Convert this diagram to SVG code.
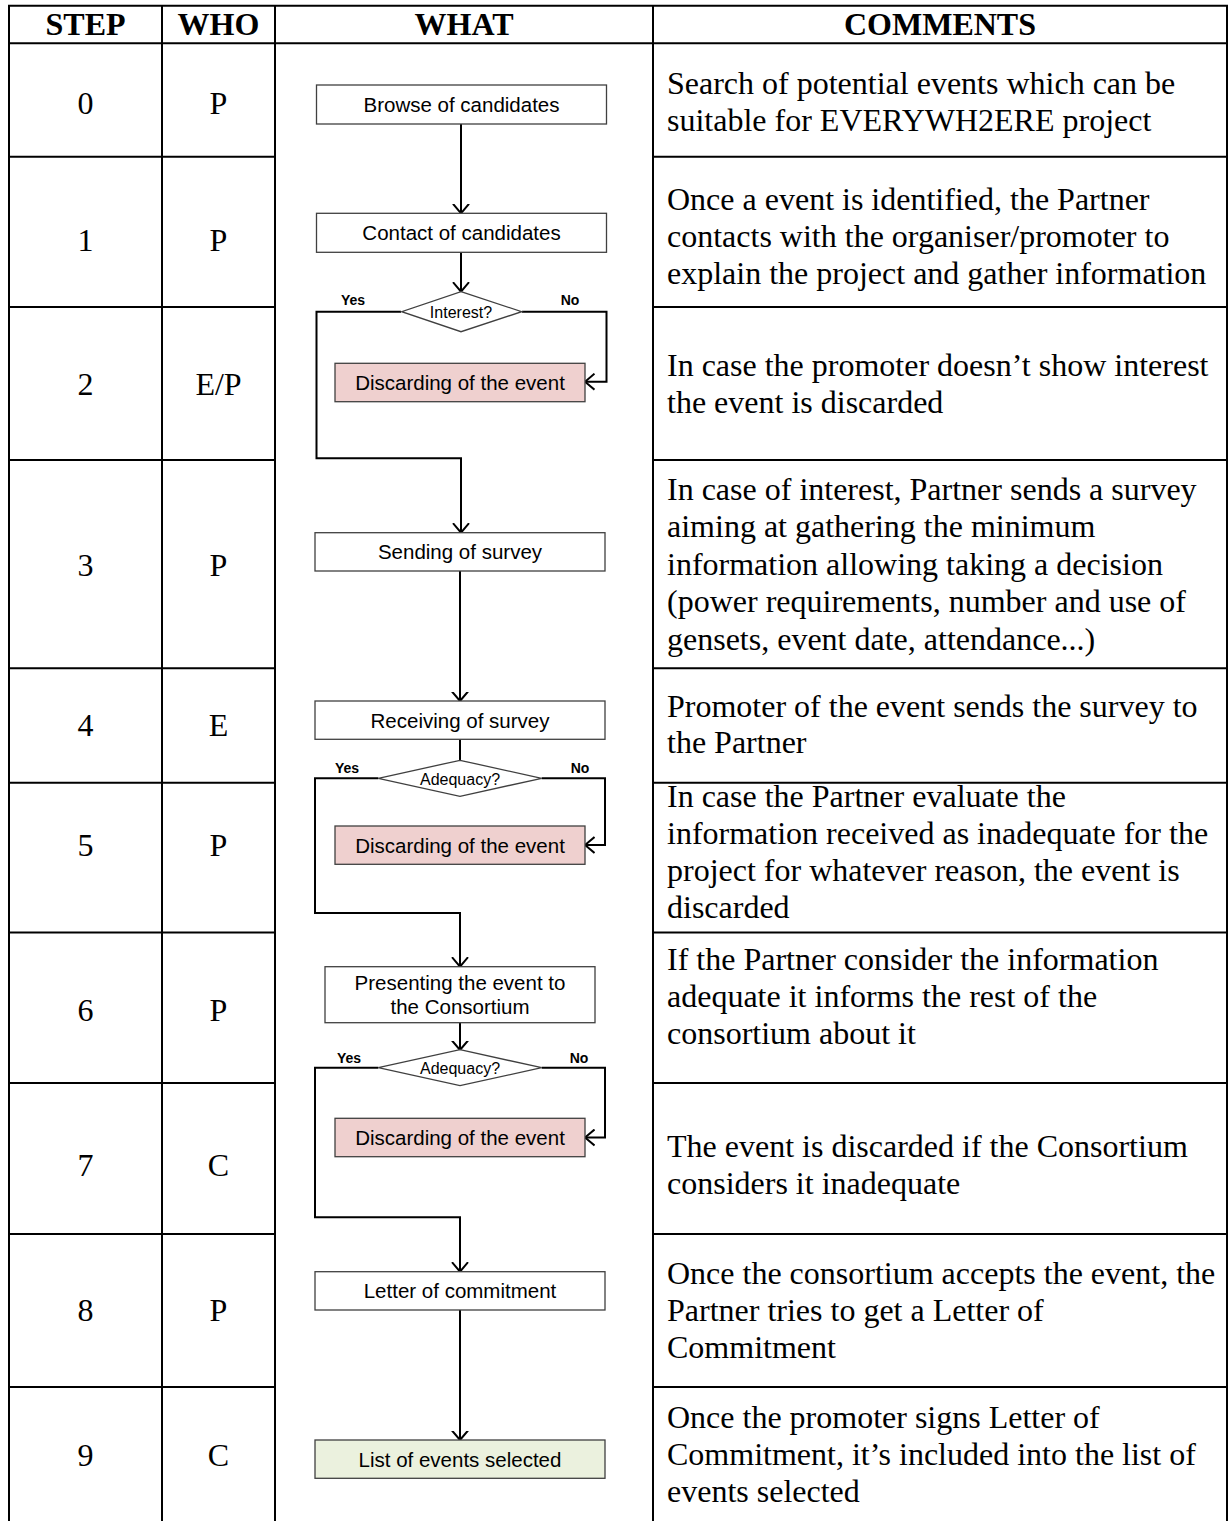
<svg xmlns="http://www.w3.org/2000/svg" width="1229" height="1521" viewBox="0 0 1229 1521">
<style>
.tl{stroke:#000;stroke-width:2;fill:none}
.hd{font-family:"Liberation Serif","Times New Roman",serif;font-weight:bold;font-size:32px;text-anchor:middle;fill:#000}
.cell{font-family:"Liberation Serif","Times New Roman",serif;font-size:32px;text-anchor:middle;fill:#000}
.cm{font-family:"Liberation Serif","Times New Roman",serif;font-size:32px;fill:#000}
.box{fill:#fff;stroke:#404040;stroke-width:1.3}
.disc{fill:#EFD0CF;stroke:#404040;stroke-width:1.3}
.fin{fill:#EBF1DE;stroke:#404040;stroke-width:1.3}
.bt{font-family:"Liberation Sans",Arial,sans-serif;font-size:20.5px;text-anchor:middle;fill:#000}
.dt{font-family:"Liberation Sans",Arial,sans-serif;font-size:16px;text-anchor:middle;fill:#000}
.yn{font-family:"Liberation Sans",Arial,sans-serif;font-size:14px;font-weight:bold;text-anchor:middle;fill:#000}
.cn{stroke:#000;stroke-width:2;fill:none}
</style>
<defs>
<marker id="arr" markerUnits="userSpaceOnUse" viewBox="0 0 10 18" refX="9.5" refY="9" markerWidth="10" markerHeight="18" orient="auto">
<path d="M0,1 L9.5,9 L0,17" fill="none" stroke="#000" stroke-width="2"/>
</marker>
</defs>
<rect width="1229" height="1521" fill="#fff"/>
<g id="table">
<line class="tl" x1="8" y1="5.7" x2="1228" y2="5.7"/>
<line class="tl" x1="8" y1="43.3" x2="1228" y2="43.3"/>
<line class="tl" x1="9" y1="5" x2="9" y2="1525"/>
<line class="tl" x1="162" y1="5" x2="162" y2="1525"/>
<line class="tl" x1="275" y1="5" x2="275" y2="1525"/>
<line class="tl" x1="653" y1="5" x2="653" y2="1525"/>
<line class="tl" x1="1227" y1="5" x2="1227" y2="1525"/>
<path class="tl" d="M8,156.7H275M653,156.7H1228M8,307H275M653,307H1228M8,460H275M653,460H1228M8,668.3H275M653,668.3H1228M8,782.7H275M653,782.7H1228M8,932.5H275M653,932.5H1228M8,1083H275M653,1083H1228M8,1234H275M653,1234H1228M8,1387H275M653,1387H1228"/>
<text class="hd" x="85.5" y="35">STEP</text>
<text class="hd" x="218.5" y="35">WHO</text>
<text class="hd" x="464" y="35">WHAT</text>
<text class="hd" x="940" y="35">COMMENTS</text>
</g>
<g id="steps">
<text class="cell" x="85.5" y="114">0</text><text class="cell" x="218.5" y="114">P</text>
<text class="cell" x="85.5" y="251">1</text><text class="cell" x="218.5" y="251">P</text>
<text class="cell" x="85.5" y="395">2</text><text class="cell" x="218.5" y="395">E/P</text>
<text class="cell" x="85.5" y="576">3</text><text class="cell" x="218.5" y="576">P</text>
<text class="cell" x="85.5" y="736">4</text><text class="cell" x="218.5" y="736">E</text>
<text class="cell" x="85.5" y="856">5</text><text class="cell" x="218.5" y="856">P</text>
<text class="cell" x="85.5" y="1021">6</text><text class="cell" x="218.5" y="1021">P</text>
<text class="cell" x="85.5" y="1176">7</text><text class="cell" x="218.5" y="1176">C</text>
<text class="cell" x="85.5" y="1321">8</text><text class="cell" x="218.5" y="1321">P</text>
<text class="cell" x="85.5" y="1466">9</text><text class="cell" x="218.5" y="1466">C</text>
</g>
<g id="comments">
<text class="cm" x="667" y="94">Search of potential events which can be</text>
<text class="cm" x="667" y="131">suitable for EVERYWH2ERE project</text>
<text class="cm" x="667" y="210">Once a event is identified, the Partner</text>
<text class="cm" x="667" y="247">contacts with the organiser/promoter to</text>
<text class="cm" x="667" y="284">explain the project and gather information</text>
<text class="cm" x="667" y="376">In case the promoter doesn’t show interest</text>
<text class="cm" x="667" y="413">the event is discarded</text>
<text class="cm" x="667" y="500">In case of interest, Partner sends a survey</text>
<text class="cm" x="667" y="537">aiming at gathering the minimum</text>
<text class="cm" x="667" y="575">information allowing taking a decision</text>
<text class="cm" x="667" y="612">(power requirements, number and use of</text>
<text class="cm" x="667" y="650">gensets, event date, attendance...)</text>
<text class="cm" x="667" y="717">Promoter of the event sends the survey to</text>
<text class="cm" x="667" y="753">the Partner</text>
<text class="cm" x="667" y="807">In case the Partner evaluate the</text>
<text class="cm" x="667" y="844">information received as inadequate for the</text>
<text class="cm" x="667" y="881">project for whatever reason, the event is</text>
<text class="cm" x="667" y="918">discarded</text>
<text class="cm" x="667" y="970">If the Partner consider the information</text>
<text class="cm" x="667" y="1007">adequate it informs the rest of the</text>
<text class="cm" x="667" y="1044">consortium about it</text>
<text class="cm" x="667" y="1157">The event is discarded if the Consortium</text>
<text class="cm" x="667" y="1194">considers it inadequate</text>
<text class="cm" x="667" y="1284">Once the consortium accepts the event, the</text>
<text class="cm" x="667" y="1321">Partner tries to get a Letter of</text>
<text class="cm" x="667" y="1358">Commitment</text>
<text class="cm" x="667" y="1428">Once the promoter signs Letter of</text>
<text class="cm" x="667" y="1465">Commitment, it’s included into the list of</text>
<text class="cm" x="667" y="1502">events selected</text>
</g>
<g id="connectors">
<line class="cn" x1="461" y1="124" x2="461" y2="213.3" marker-end="url(#arr)"/>
<line class="cn" x1="461" y1="252.3" x2="461" y2="291.7" marker-end="url(#arr)"/>
<polyline class="cn" points="401,311.7 316.5,311.7 316.5,458.3 461,458.3 461,532.7" marker-end="url(#arr)"/>
<polyline class="cn" points="522,311.7 606.5,311.7 606.5,381.7 585,381.7" marker-end="url(#arr)"/>
<line class="cn" x1="460" y1="571" x2="460" y2="701" marker-end="url(#arr)"/>
<line class="cn" x1="460" y1="739.3" x2="460" y2="760.3"/>
<polyline class="cn" points="378.3,778.3 315,778.3 315,913 460,913 460,966.7" marker-end="url(#arr)"/>
<polyline class="cn" points="541.7,778.3 605,778.3 605,845 585,845" marker-end="url(#arr)"/>
<line class="cn" x1="460" y1="1022.7" x2="460" y2="1050" marker-end="url(#arr)"/>
<polyline class="cn" points="378.3,1067.7 315,1067.7 315,1217.3 460,1217.3 460,1271.7" marker-end="url(#arr)"/>
<polyline class="cn" points="541.7,1067.7 605,1067.7 605,1137.5 585,1137.5" marker-end="url(#arr)"/>
<line class="cn" x1="460" y1="1310" x2="460" y2="1440" marker-end="url(#arr)"/>
</g>
<g id="browse"><rect class="box" x="316.5" y="85" width="290" height="39"/><text class="bt" x="461.5" y="111.5">Browse of candidates</text></g>
<g id="contact"><rect class="box" x="316.5" y="213.3" width="290" height="39"/><text class="bt" x="461.5" y="240">Contact of candidates</text></g>
<g id="interest"><polygon class="box" points="461,291.7 521.7,311.7 461,331.7 401.7,311.7"/><text class="dt" x="461" y="318">Interest?</text><text class="yn" x="353" y="305">Yes</text><text class="yn" x="570" y="305">No</text></g>
<g id="discard1"><rect class="disc" x="335" y="363.3" width="250" height="38.4"/><text class="bt" x="460" y="390">Discarding of the event</text></g>
<g id="sending"><rect class="box" x="315" y="532.7" width="290" height="38.3"/><text class="bt" x="460" y="559">Sending of survey</text></g>
<g id="receiving"><rect class="box" x="315" y="701" width="290" height="38.3"/><text class="bt" x="460" y="727.5">Receiving of survey</text></g>
<g id="adequacy1"><polygon class="box" points="460,760.3 541.7,778.3 460,796.3 378.3,778.3"/><text class="dt" x="460" y="784.5">Adequacy?</text><text class="yn" x="347" y="773">Yes</text><text class="yn" x="580" y="773">No</text></g>
<g id="discard2"><rect class="disc" x="335" y="826" width="250" height="38.3"/><text class="bt" x="460" y="852.5">Discarding of the event</text></g>
<g id="presenting"><rect class="box" x="325" y="966.7" width="270" height="56"/><text class="bt" x="460" y="990">Presenting the event to</text><text class="bt" x="460" y="1014">the Consortium</text></g>
<g id="adequacy2"><polygon class="box" points="460,1049.7 541.7,1067.7 460,1085.7 378.3,1067.7"/><text class="dt" x="460" y="1074">Adequacy?</text><text class="yn" x="349" y="1063">Yes</text><text class="yn" x="579" y="1063">No</text></g>
<g id="discard3"><rect class="disc" x="335" y="1118.3" width="250" height="38.4"/><text class="bt" x="460" y="1145">Discarding of the event</text></g>
<g id="letter"><rect class="box" x="315" y="1271.7" width="290" height="38.3"/><text class="bt" x="460" y="1298">Letter of commitment</text></g>
<g id="selected"><rect class="fin" x="315" y="1440" width="290" height="38.3"/><text class="bt" x="460" y="1466.5">List of events selected</text></g>
</svg>
